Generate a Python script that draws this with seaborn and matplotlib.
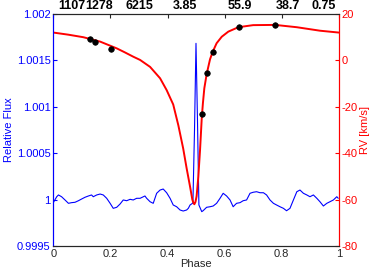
import numpy as np
import pandas as pd
import seaborn as sns
import matplotlib
matplotlib.use("Agg")
import matplotlib.pyplot as plt

# light curve (relative flux)
flux_phase = [0.000, 0.012, 0.018, 0.029, 0.041, 0.053, 0.064, 0.076, 0.088, 0.099,
              0.111, 0.123, 0.134, 0.140, 0.152, 0.164, 0.175, 0.187, 0.199, 0.210,
              0.222, 0.234, 0.245, 0.257, 0.269, 0.280, 0.292, 0.304, 0.321, 0.327,
              0.339, 0.350, 0.362, 0.374, 0.385, 0.397, 0.409, 0.420, 0.432, 0.444,
              0.455, 0.467, 0.473, 0.479, 0.489, 0.4946, 0.4998, 0.505, 0.510, 0.520,
              0.525, 0.537, 0.549, 0.560, 0.572, 0.584, 0.595, 0.607, 0.619, 0.630,
              0.636, 0.642, 0.654, 0.665, 0.677, 0.689, 0.700, 0.712, 0.724, 0.736,
              0.747, 0.759, 0.771, 0.782, 0.794, 0.806, 0.817, 0.829, 0.841, 0.853,
              0.864, 0.876, 0.888, 0.899, 0.911, 0.923, 0.934, 0.946, 0.958, 0.969,
              0.981, 0.993, 0.998]
flux_dev = [-3.3, 3.1, 5.0, 3.1, -0.4, -4.0, -3.3, -2.9, -1.2, 0.6,
            2.5, 3.9, 5.0, 3.1, 5.0, 6.0, 5.0, 1.4, -4.0, -9.4,
            -8.3, -4.7, -0.4, -1.2, 0.3, -0.4, 1.4, 1.4, 3.9, 1.4,
            -2.3, -4.0, 6.8, 10.3, 11.4, 7.4, 1.4, -5.8, -7.7, -11.2,
            -12.3, -11.2, -9.4, -5.8, -3.7, 75.0, 168.4, 85.8, -5.8, -13.0,
            -11.9, -8.3, -7.7, -6.9, -4.0, 1.4, 6.8, 3.9, -0.4, -7.7,
            -5.8, -4.0, -3.3, -1.2, -0.4, 6.8, 7.9, 8.5, 7.4, 7.4,
            5.0, -0.4, -4.0, -5.8, -7.7, -9.4, -12.0, -9.4, -0.4, 8.5,
            10.3, 6.8, 5.0, 3.1, 5.0, 1.4, -2.3, -6.9, -4.0, -2.3,
            -0.4, 3.1, 1.4]  # in units of 1e-5

# radial velocity model curve (km/s)
rv_phase = [0.000, 0.052, 0.105, 0.164, 0.222, 0.250, 0.280, 0.304, 0.339, 0.374,
            0.397, 0.420, 0.438, 0.455, 0.467, 0.479, 0.487, 0.491, 0.494, 0.498,
            0.502, 0.508, 0.514, 0.520, 0.524, 0.529, 0.537, 0.549, 0.558, 0.572,
            0.590, 0.613, 0.648, 0.700, 0.777, 0.853, 0.934, 1.000]
rv_model = [12.0, 11.1, 10.0, 8.1, 5.2, 3.5, 1.6, 0.2, -2.8, -7.7,
            -12.8, -19.0, -28.0, -38.0, -46.5, -54.4, -60.0, -61.5, -62.0, -61.0,
            -58.5, -50.1, -38.6, -24.8, -18.5, -12.0, -6.0, 0.5, 3.6, 7.4,
            10.2, 12.4, 14.3, 15.2, 15.3, 14.3, 12.8, 12.0]

# measured RVs
obs_phase = [0.130, 0.146, 0.201, 0.522, 0.537, 0.558, 0.649, 0.777]
obs_rv = [9.4, 8.1, 4.8, -23.1, -5.6, 3.6, 14.3, 15.3]

top_labels = ["1107", "1278", "6215", "3.85", "55.9", "38.7", "0.75"]
top_label_phase = [0.064, 0.161, 0.300, 0.460, 0.654, 0.820, 0.946]

flux_df = pd.DataFrame({"Phase": flux_phase, "Flux": 1 + np.array(flux_dev) * 1e-5})
rv_df = pd.DataFrame({"Phase": rv_phase, "RV": rv_model})
obs_df = pd.DataFrame({"Phase": obs_phase, "RV": obs_rv})

sns.set_style("white")
plt.rcParams['font.family'] = ['Liberation Sans', 'DejaVu Sans']
font_size = 8
grey = '#262626'

fig = plt.figure(figsize=(3.74, 2.74), dpi=100)
ax = fig.add_axes([53.3 / 374, 1 - 246 / 274, (338.8 - 53.3) / 374, 232 / 274])
ax2 = ax.twinx()

sns.lineplot(flux_df, x="Phase", y="Flux", ax=ax, color='#0000FF', linewidth=0.8)
sns.lineplot(rv_df, x="Phase", y="RV", ax=ax2, color='#FF0000', linewidth=1.4)
sns.scatterplot(obs_df, x="Phase", y="RV", ax=ax2, color='black', s=16,
                edgecolor='black', linewidth=0.5, zorder=5)

ax.set_xlim(0, 1)
ax.set_ylim(0.9995, 1.002)
ax2.set_ylim(-80, 20)

ax.set_xticks([0, 0.2, 0.4, 0.6, 0.8, 1])
ax.set_xticklabels(["0", "0.2", "0.4", "0.6", "0.8", "1"])
ax.set_yticks([0.9995, 1.0, 1.0005, 1.001, 1.0015, 1.002])
ax.set_yticklabels(["0.9995", "1", "1.0005", "1.001", "1.0015", "1.002"])
ax2.set_yticks([-80, -60, -40, -20, 0, 20])
ax2.set_yticklabels(["-80", "-60", "-40", "-20", "0", "20"])

ax.tick_params(axis='x', direction='in', length=3, colors=grey, labelsize=font_size,
               top=True, pad=2)
ax.tick_params(axis='y', direction='in', length=3, colors='#0000FF',
               labelsize=font_size, pad=2)
ax2.tick_params(axis='y', direction='in', length=3, colors='#FF0000',
                labelsize=font_size, pad=2)

for a in (ax, ax2):
    for side, sp in a.spines.items():
        sp.set_visible(True)
        sp.set_linewidth(0.8)
        sp.set_color(grey)
    a.spines['left'].set_color('#0000FF')
    a.spines['right'].set_color('#FF0000')

ax.set_xlabel("Phase", fontsize=font_size, color=grey, labelpad=0)
ax.set_ylabel("Relative Flux", fontsize=font_size, color='#0000FF', labelpad=2)
ax2.set_ylabel("RV [km/s]", fontsize=font_size, color='#FF0000', labelpad=2)

for lab, ph in zip(top_labels, top_label_phase):
    ax.text(ph, 1.01, lab, transform=ax.get_xaxis_transform(), ha='center',
            va='bottom', fontsize=9, fontweight='bold', color='black')

fig.savefig("out.png", dpi=100)
